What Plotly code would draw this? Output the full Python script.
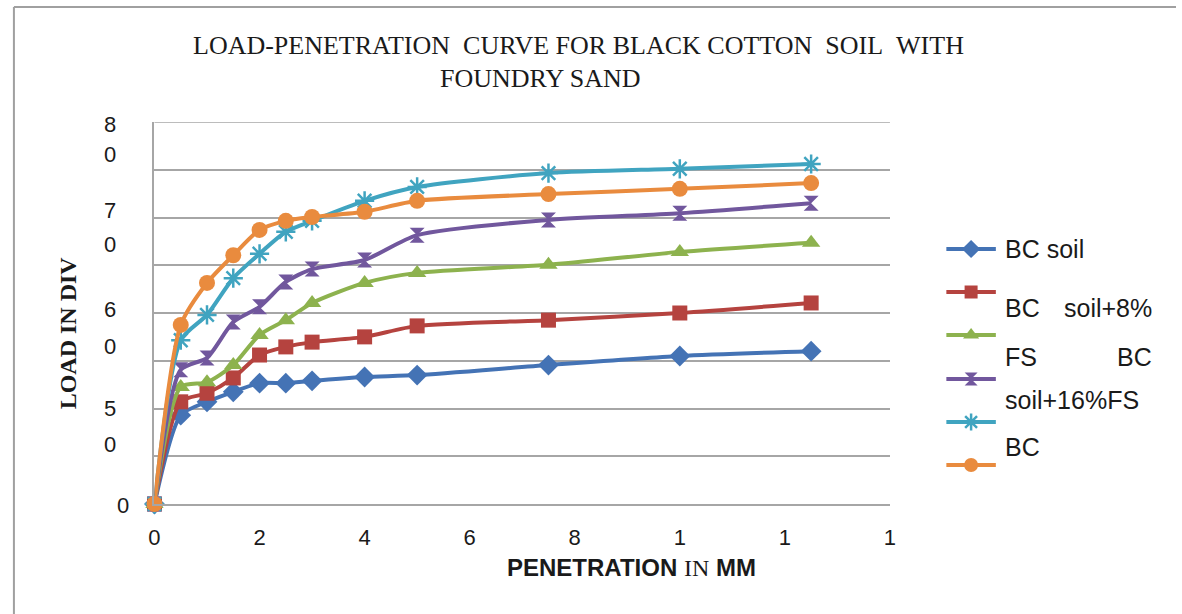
import plotly.graph_objects as go

# ---- data -------------------------------------------------------------
penetration = [0, 0.5, 1, 1.5, 2, 2.5, 3, 4, 5, 7.5, 10, 12.5]

bc_soil = [0, 18.6, 21.4, 23.5, 25.3, 25.3, 25.8, 26.6, 27.0, 29.1, 31.0, 32.0]
bc_8fs = [0, 21.4, 23.2, 26.4, 31.2, 32.9, 33.9, 35.0, 37.3, 38.5, 40.0, 42.1]
bc_16fs = [0, 24.5, 25.5, 29.1, 35.4, 38.5, 42.1, 46.3, 48.4, 50.1, 52.8, 54.7]
series_4 = [0, 28.1, 30.6, 38.1, 41.3, 46.5, 49.2, 51.1, 56.3, 59.5, 60.9, 63.0]
series_5 = [0, 34.3, 39.6, 47.3, 52.4, 57.0, 59.3, 63.5, 66.4, 69.3, 70.2, 71.2]
series_6 = [0, 37.5, 46.3, 52.1, 57.4, 59.3, 60.1, 61.2, 63.5, 64.9, 66.0, 67.2]

x_tick_vals = [0, 2, 4, 6, 8, 10, 12, 14]
x_tick_text = ["0", "2", "4", "6", "8", "1", "1", "1"]

# y tick labels as they are laid out (wrapped digits), with pixel rows
y_tick_text = ["8", "0", "7", "0", "6", "0", "5", "0", "0"]
y_tick_rows = [125, 154, 211, 245, 309, 346, 408, 444, 505]
y_tick_cols = [105, 105, 105, 105, 105, 105, 105, 105, 118]

legend_lines = [
    ("BC soil", 249, False),
    ("BC soil+8%", 308, True),
    ("FS BC", 357, True),
    ("soil+16%FS", 400, False),
    ("BC", 447, False),
]
legend_symbol_rows = [249, 292, 335, 379, 422, 465]

W, H = 1182, 614
PLOT_L, PLOT_R, PLOT_T, PLOT_B = 150, 893, 122, 504


def px(x):
    return x / W


def py(y):
    return 1 - y / H


styles = [
    dict(color="#4473B5", symbol="diamond", size=16),
    dict(color="#B5433F", symbol="square", size=15),
    dict(color="#8DB24E", symbol="triangle-up", size=16),
    dict(color="#71579D", symbol="hourglass", size=15),
    dict(color="#40A4C0", symbol="asterisk-open", size=16),
    dict(color="#E98B3E", symbol="circle", size=16),
]
all_series = [bc_soil, bc_8fs, bc_16fs, series_4, series_5, series_6]


def marker_style(st, size):
    return dict(symbol=st["symbol"], size=size, color=st["color"], opacity=1,
                line=dict(color=st["color"], width=2.5 if "open" in st["symbol"] else 0))


fig = go.Figure()

for vals, st in zip(all_series, styles):
    fig.add_trace(go.Scatter(
        x=penetration, y=vals, mode="lines+markers",
        line=dict(color=st["color"], width=4, shape="spline", smoothing=0.7),
        marker=marker_style(st, st["size"]),
        cliponaxis=False, showlegend=False, xaxis="x", yaxis="y",
    ))

# legend keys drawn on a pixel-unit axis pair spanning the whole figure
for row, st in zip(legend_symbol_rows, styles):
    fig.add_trace(go.Scatter(
        x=[950, 1000], y=[row, row], mode="lines",
        line=dict(color=st["color"], width=4),
        cliponaxis=False, showlegend=False, xaxis="x2", yaxis="y2", hoverinfo="skip",
    ))
    fig.add_trace(go.Scatter(
        x=[975], y=[row], mode="markers",
        marker=marker_style(st, st["size"] - 2),
        cliponaxis=False, showlegend=False, xaxis="x2", yaxis="y2", hoverinfo="skip",
    ))

grid_col = "#A6A6A6"
fig.update_layout(
    width=W, height=H,
    margin=dict(l=0, r=0, t=0, b=0),
    paper_bgcolor="white", plot_bgcolor="rgba(0,0,0,0)",
    xaxis=dict(
        domain=[px(PLOT_L), px(PLOT_R)], range=[0, 14],
        tickvals=x_tick_vals, ticktext=x_tick_text, ticks="",
        ticklabelstandoff=13,
        tickfont=dict(family="Liberation Sans", size=22, color="#1a1a1a"),
        showgrid=False, zeroline=False, showline=True,
        linecolor=grid_col, linewidth=1.5, anchor="y",
    ),
    yaxis=dict(
        domain=[py(PLOT_B), py(PLOT_T)], range=[0, 80], dtick=10,
        showticklabels=False, ticks="",
        showgrid=True, gridcolor=grid_col, gridwidth=1.5,
        zeroline=False, showline=True, linecolor=grid_col, linewidth=1.5,
        anchor="x",
    ),
    xaxis2=dict(domain=[0, 1], range=[0, W], visible=False, anchor="y2", fixedrange=True),
    yaxis2=dict(domain=[0, 1], range=[H, 0], visible=False, anchor="x2", fixedrange=True),
    showlegend=False,
)

# top edge of the plot area
fig.add_shape(type="line", xref="x domain", yref="y", x0=0, x1=1, y0=80, y1=80,
              line=dict(color=grid_col, width=1.5))

# outer chart border (left and top edges)
fig.add_shape(type="line", xref="paper", yref="paper",
              x0=px(8), x1=px(8), y0=py(7), y1=0, line=dict(color="#A0A0A0", width=2))
fig.add_shape(type="line", xref="paper", yref="paper",
              x0=px(8), x1=1, y0=py(7), y1=py(7), line=dict(color="#A0A0A0", width=2))

ann = []
# title
nb = "\u00a0"
ann.append(dict(text=f"LOAD-PENETRATION{nb}{nb}CURVE FOR BLACK COTTON{nb}{nb}SOIL{nb}{nb}WITH",
                x=px(578), y=py(45), xref="paper", yref="paper", showarrow=False,
                xanchor="center", yanchor="middle",
                font=dict(family="Liberation Serif", size=26, color="#1a1a1a")))
ann.append(dict(text="FOUNDRY SAND",
                x=px(540), y=py(78), xref="paper", yref="paper", showarrow=False,
                xanchor="center", yanchor="middle",
                font=dict(family="Liberation Serif", size=26, color="#1a1a1a")))
# axis titles
ann.append(dict(text="<b>LOAD IN DIV</b>", textangle=-90,
                x=px(63), y=py(333), xref="paper", yref="paper", showarrow=False,
                xanchor="center", yanchor="middle",
                font=dict(family="Liberation Serif", size=24, color="#1a1a1a")))
ann.append(dict(text="<b>PENETRATION</b> <span style='font-family:Liberation Serif'>IN</span> <b>MM</b>",
                x=px(632), y=py(567), xref="paper", yref="paper", showarrow=False,
                xanchor="center", yanchor="middle",
                font=dict(family="Liberation Sans", size=24, color="#1a1a1a")))
# y tick labels
for t, r, c in zip(y_tick_text, y_tick_rows, y_tick_cols):
    ann.append(dict(text=t, x=px(c), y=py(r), xref="paper", yref="paper", showarrow=False,
                    xanchor="center", yanchor="middle",
                    font=dict(family="Liberation Sans", size=22, color="#1a1a1a")))
# legend text (justified lines)
LEG_L, LEG_R = 1007, 1160
for text, row, justified in legend_lines:
    words = text.split(" ")
    if justified and len(words) > 1:
        ann.append(dict(text=words[0], x=px(LEG_L), y=py(row), xref="paper", yref="paper",
                        showarrow=False, xanchor="left", yanchor="middle",
                        font=dict(family="Liberation Sans", size=25, color="#1a1a1a")))
        ann.append(dict(text=words[-1], x=px(LEG_R), y=py(row), xref="paper", yref="paper",
                        showarrow=False, xanchor="right", yanchor="middle",
                        font=dict(family="Liberation Sans", size=25, color="#1a1a1a")))
    else:
        ann.append(dict(text=text, x=px(LEG_L), y=py(row), xref="paper", yref="paper",
                        showarrow=False, xanchor="left", yanchor="middle",
                        font=dict(family="Liberation Sans", size=25, color="#1a1a1a")))

fig.update_layout(annotations=ann)

fig.write_html("out.html")
